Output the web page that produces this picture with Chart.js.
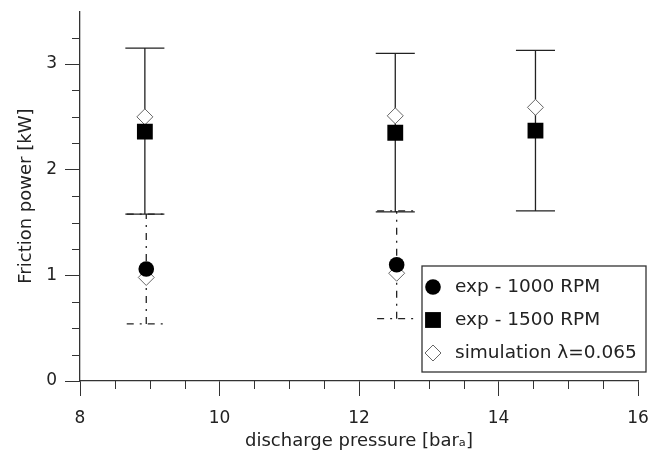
<!DOCTYPE html>
<html>
<head>
<meta charset="utf-8">
<script src="https://cdn.jsdelivr.net/npm/chart.js@4.4.0/dist/chart.umd.min.js"></script>
<style>
  html, body { margin: 0; padding: 0; background: #fff; }
  #wrap { width: 653px; height: 459px; }
</style>
</head>
<body>
<div id="wrap"><canvas id="myChart"></canvas></div>
<script>
// discharge pressure [bar_a] of each measuring point
var x1000 = [8.95, 12.54]
var x1500 = [8.93, 12.52, 14.53]

// exp - 1000 RPM, friction power [kW] with error bar ends
var exp1000 = [1.06, 1.10]
var exp1000Lo = [0.54, 0.59]
var exp1000Hi = [1.58, 1.61]

// exp - 1500 RPM
var exp1500 = [2.36, 2.35, 2.37]
var exp1500Lo = [1.58, 1.60, 1.61]
var exp1500Hi = [3.15, 3.10, 3.13]

// simulation lambda=0.065
var simX = [8.95, 8.93, 12.54, 12.52, 14.53]
var simY = [0.98, 2.50, 1.02, 2.51, 2.59]

// labelled ticks
var xTicks = [8, 10, 12, 14, 16]
var yTicks = [0, 1, 2, 3]

var FONT = '"DejaVu Sans", sans-serif'
var INK = '#222'

function pts (xs, ys) {
  var out = []
  for (var i = 0; i < xs.length; i++) out.push({x: xs[i], y: ys[i]})
  return out
}

// error bars, drawn under the markers
var errorBars = {
  id: 'errorBars',
  beforeDatasetsDraw (chart) {
    var ctx = chart.ctx
    var sx = chart.scales.x
    var sy = chart.scales.y
    var cap = 0.28
    function bar (x, lo, hi, dash) {
      var px = sx.getPixelForValue(x)
      var l = sx.getPixelForValue(x - cap)
      var r = sx.getPixelForValue(x + cap)
      var pl = sy.getPixelForValue(lo)
      var ph = sy.getPixelForValue(hi)
      ctx.setLineDash(dash)
      ctx.beginPath()
      ctx.moveTo(px, pl); ctx.lineTo(px, ph)
      ctx.moveTo(l, pl); ctx.lineTo(r, pl)
      ctx.moveTo(l, ph); ctx.lineTo(r, ph)
      ctx.stroke()
    }
    ctx.save()
    ctx.strokeStyle = INK
    ctx.lineWidth = 1.3
    for (var i = 0; i < x1000.length; i++) bar(x1000[i], exp1000Lo[i], exp1000Hi[i], [7, 6, 2, 6])
    for (var j = 0; j < x1500.length; j++) bar(x1500[j], exp1500Lo[j], exp1500Hi[j], [])
    ctx.restore()
  }
}

// short minor tick marks (major ones come from the scale grid)
var minorTicks = {
  id: 'minorTicks',
  afterDraw (chart) {
    var ctx = chart.ctx
    var sx = chart.scales.x
    var sy = chart.scales.y
    var a = chart.chartArea
    ctx.save()
    ctx.strokeStyle = '#333'
    ctx.lineWidth = 1
    ctx.beginPath()
    sx.ticks.forEach(function (t) {
      if (xTicks.indexOf(t.value) >= 0) return
      var p = Math.round(sx.getPixelForValue(t.value)) + 0.5
      ctx.moveTo(p, a.bottom); ctx.lineTo(p, a.bottom + 8)
    })
    sy.ticks.forEach(function (t) {
      if (yTicks.indexOf(t.value) >= 0 || t.value > 3.3) return
      var p = Math.round(sy.getPixelForValue(t.value)) + 0.5
      ctx.moveTo(a.left - 8, p); ctx.lineTo(a.left, p)
    })
    ctx.stroke()
    ctx.restore()
  }
}

// framed legend inside the plot, lower right
var boxLegend = {
  id: 'boxLegend',
  afterDraw (chart) {
    var ctx = chart.ctx
    ctx.save()
    ctx.setLineDash([])
    ctx.fillStyle = '#fff'
    ctx.fillRect(422, 266, 224, 106)
    ctx.strokeStyle = '#333'
    ctx.lineWidth = 1.3
    ctx.strokeRect(422, 266, 224, 106)
    chart.data.datasets.forEach(function (ds, i) {
      var y = 287 + i * 33
      ctx.fillStyle = ds.backgroundColor
      ctx.strokeStyle = ds.borderColor
      ctx.lineWidth = ds.borderWidth
      Chart.helpers.drawPoint(ctx, {pointStyle: ds.pointStyle, radius: ds.pointRadius, rotation: 0, borderWidth: ds.borderWidth}, 433, y)
      ctx.fillStyle = INK
      ctx.font = '18.5px ' + FONT
      ctx.textBaseline = 'middle'
      ctx.fillText(ds.label, 455, y)
    })
    ctx.restore()
  }
}

function majorColor (list) {
  return function (c) {
    return c.tick && list.indexOf(c.tick.value) >= 0 ? '#333' : 'rgba(0,0,0,0)'
  }
}

var ctx = document.getElementById('myChart').getContext('2d')
var chart = new Chart(ctx, {
  type: 'scatter',
  data: {
    datasets: [
      {
        label: 'exp - 1000 RPM',
        data: pts(x1000, exp1000),
        pointStyle: 'circle',
        pointRadius: 7.8,
        backgroundColor: '#000',
        borderColor: '#000',
        borderWidth: 0
      },
      {
        label: 'exp - 1500 RPM',
        data: pts(x1500, exp1500),
        pointStyle: 'rect',
        pointRadius: 11.2,
        backgroundColor: '#000',
        borderColor: '#000',
        borderWidth: 0
      },
      {
        label: 'simulation \u03bb=0.065',
        data: pts(simX, simY),
        pointStyle: 'rectRot',
        pointRadius: 8,
        backgroundColor: '#fff',
        borderColor: '#666',
        borderWidth: 1
      }
    ]
  },
  options: {
    responsive: true,
    maintainAspectRatio: false,
    animation: false,
    layout: {padding: {top: 10, right: 15, left: 0, bottom: 0}},
    plugins: {legend: {display: false}, tooltip: {enabled: false}},
    scales: {
      x: {
        type: 'linear',
        min: 8,
        max: 16,
        afterFit (s) { s.height = 78; s.paddingLeft = 0; s.paddingRight = 0 },
        border: {display: true, color: '#333', width: 1.3},
        grid: {drawOnChartArea: false, tickLength: 15, tickColor: majorColor(xTicks), tickWidth: 1},
        ticks: {
          stepSize: 0.5, autoSkip: false, maxRotation: 0, padding: 12,
          color: INK, font: {family: FONT, size: 17},
          callback: function (v) { return xTicks.indexOf(v) >= 0 ? String(v) : '' }
        },
        title: {display: true, text: 'discharge pressure [bar\u2090]', color: INK, font: {family: FONT, size: 18}, padding: {top: 0, bottom: 7}}
      },
      y: {
        min: 0,
        max: 3.5,
        afterFit (s) { s.width = 80; s.paddingTop = 0; s.paddingBottom = 0 },
        border: {display: true, color: '#333', width: 1.3},
        grid: {drawOnChartArea: false, tickLength: 15, tickColor: majorColor(yTicks), tickWidth: 1},
        ticks: {
          stepSize: 0.25, autoSkip: false, padding: 8,
          color: INK, font: {family: FONT, size: 17},
          callback: function (v) { return yTicks.indexOf(v) >= 0 ? String(v) : '' }
        },
        title: {display: true, text: 'Friction power [kW]', color: INK, font: {family: FONT, size: 18}, padding: {top: 16, bottom: 0}}
      }
    }
  },
  plugins: [errorBars, minorTicks, boxLegend]
})
</script>
</body>
</html>
